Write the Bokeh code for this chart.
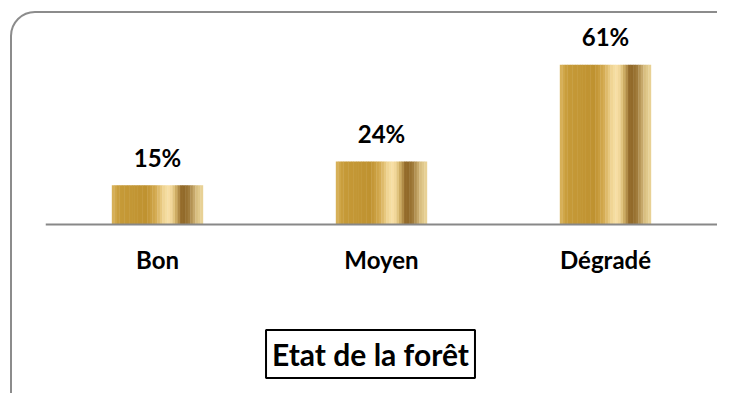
from bokeh.plotting import figure
from bokeh.models import ColumnDataSource, Range1d, Label, InlineStyleSheet
from bokeh.transform import dodge
from bokeh.embed import file_html
from bokeh.resources import INLINE
from bokeh.core.properties import value

categories = ["Bon", "Moyen", "Dégradé"]
percent = [15, 24, 61]
labels = ["15%", "24%", "61%"]
title_text = "Etat de la forêt"

FONT = "Lato"
PX = 2.62            # pixels per percent
W, H = 717, 393
LEFT = 45
BASE = 224           # canvas y of the baseline
CAT_PX = (W - LEFT) / 3

src = ColumnDataSource(dict(cat=categories, val=percent, lab=labels))

p = figure(x_range=categories, y_range=Range1d(-(H - BASE) / PX, BASE / PX), width=W, height=H,
           output_backend="svg", toolbar_location=None, y_axis_location=None,
           min_border_left=LEFT, min_border_right=0, min_border_top=0,
           min_border_bottom=0)
p.outline_line_color = None
p.xgrid.visible = False
p.ygrid.visible = False
p.background_fill_color = "white"
p.border_fill_color = "white"

# rounded outer frame of the chart area (cut off at right and bottom, as in the source)
p.stylesheets = [InlineStyleSheet(css="""
:host { position: relative; overflow: hidden; }
:host::after { content: ""; position: absolute; left: 10px; top: 11px; width: 780px; height: 440px;
  border: 2px solid #8c8c8c; border-radius: 25px; pointer-events: none; box-sizing: border-box; }
""")]

stops = [(0.0, (0xDA, 0xB5, 0x5E)), (0.08, (0xC6, 0x9A, 0x38)), (0.38, (0xBF, 0x92, 0x30)),
         (0.48, (0xD3, 0xAA, 0x50)), (0.58, (0xF3, 0xDA, 0x9C)), (0.64, (0xF8, 0xE0, 0xA6)),
         (0.70, (0xD6, 0xB6, 0x6C)), (0.77, (0x8E, 0x64, 0x24)), (0.84, (0x9C, 0x76, 0x36)),
         (0.93, (0xD8, 0xBE, 0x80)), (1.0, (0xEC, 0xD6, 0x9A))]

def col_at(t):
    for (t0, c0), (t1, c1) in zip(stops[:-1], stops[1:]):
        if t0 <= t <= t1:
            f = (t - t0) / (t1 - t0) if t1 > t0 else 0
            c = [round(a + (b - a) * f) for a, b in zip(c0, c1)]
            return "#%02x%02x%02x" % tuple(c)
    return "#%02x%02x%02x" % stops[-1][1]

BAR_W = 91 / CAT_PX
N = 36
sw = BAR_W / N
for i in range(N):
    t = (i + 0.5) / N
    off = -BAR_W / 2 + (i + 0.5) * sw
    p.vbar(x=dodge("cat", off, range=p.x_range), top="val", bottom=0, width=sw * 1.15,
           source=src, fill_color=col_at(t), line_color=None)

p.text(x="cat", y="val", text="lab", source=src, text_align="center",
       text_baseline="alphabetic", y_offset=-28, text_font=value(FONT),
       text_font_style="bold", text_font_size="24px", text_color="black")

ax = p.xaxis[0]
ax.fixed_location = 0
ax.axis_line_color = "#888888"
ax.axis_line_width = 2
ax.major_tick_line_color = None
ax.minor_tick_line_color = None
ax.major_label_text_font = FONT
ax.major_label_text_font_style = "bold"
ax.major_label_text_font_size = "24px"
ax.major_label_text_color = "black"
ax.major_label_standoff = 14

p.add_layout(Label(x=(370 - LEFT) / CAT_PX, y=(BASE - 353.5) / PX, text=title_text,
                   text_align="center", text_baseline="middle", text_font=FONT,
                   text_font_style="bold", text_font_size="30px", text_color="black",
                   border_line_color="black", border_line_width=2,
                   background_fill_color="white", padding=6))

open("out.html", "w").write(file_html(p, INLINE))
